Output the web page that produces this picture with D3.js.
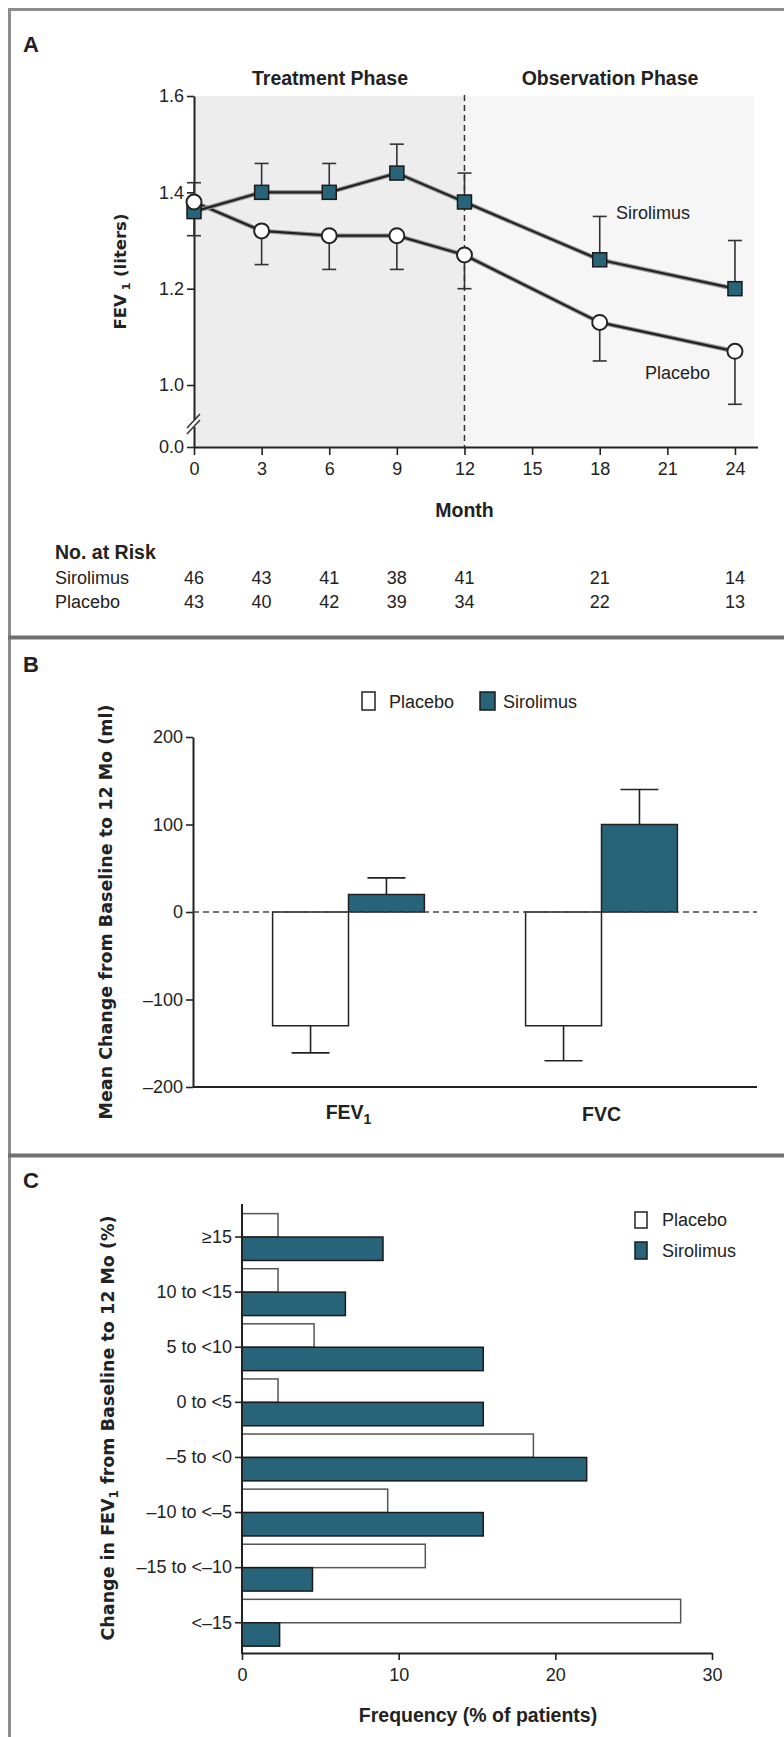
<!DOCTYPE html>
<html>
	<head>
		<meta charset="UTF-8">
		<title>FEV1 sirolimus vs placebo</title>
		<style>
			body{margin:0;background:#fff;}
			text{font-family:"Liberation Sans",Arial,sans-serif;fill:#222;}
			.vlab{font-family:"DejaVu Sans",Verdana,sans-serif;font-weight:bold;}
		</style>
	</head>
	<body>
		<script src="https://cdn.jsdelivr.net/npm/d3@7"></script>
		<script>
			// Panel A: FEV1 over time
			var months = [0,3,6,9,12,18,24];
			var siroMean = [1.36,1.40,1.40,1.44,1.38,1.26,1.20];
			var siroUpper = [1.42,1.46,1.46,1.50,1.44,1.35,1.30];
			var placMean = [1.38,1.32,1.31,1.31,1.27,1.13,1.07];
			var placLower = [1.31,1.25,1.24,1.24,1.20,1.05,0.96];
			var riskSiro = [46,43,41,38,41,21,14];
			var riskPlac = [43,40,42,39,34,22,13];
			var monthTicks = [0,3,6,9,12,15,18,21,24];
			var fevTicks = [0,1.0,1.2,1.4,1.6];

			// Panel B: mean change to 12 months (ml)
			var measures = ["FEV1","FVC"];
			var groups = ["Placebo","Sirolimus"];
			var changePlac = [-130,-130];
			var changePlacErr = [-161,-170];
			var changeSiro = [20,100];
			var changeSiroErr = [39,140];
			var changeTicks = [-200,-100,0,100,200];

			// Panel C: distribution of FEV1 change (%)
			var bins = ["\u226515","10 to <15","5 to <10","0 to <5","\u20135 to <0","\u201310 to <\u20135","\u201315 to <\u201310","<\u201315"];
			var freqPlac = [2.3,2.3,4.6,2.3,18.6,9.3,11.7,28.0];
			var freqSiro = [9.0,6.6,15.4,15.4,22.0,15.4,4.5,2.4];
			var freqTicks = [0,10,20,30];

			var teal = "#276479";
			var width = 784, height = 1737;

			var svg = d3.select("body").append("svg")
						.attr("width",width)
						.attr("height",height);

			// frame lines
			svg.append("line").attr("x1",9.5).attr("x2",9.5).attr("y1",8).attr("y2",height)
				.attr("stroke","#8c8c8c").attr("stroke-width",3);
			svg.append("line").attr("x1",8).attr("x2",width).attr("y1",9.5).attr("y2",9.5)
				.attr("stroke","#8c8c8c").attr("stroke-width",3);
			[637.5,1155.5].forEach(function(y){
				svg.append("line").attr("x1",8).attr("x2",width).attr("y1",y).attr("y2",y)
					.attr("stroke","#707070").attr("stroke-width",4);
			});

			function panelLetter(t,y){
				svg.append("text").attr("x",23).attr("y",y)
					.style("font-size","22px").style("font-weight","bold").text(t);
			}
			function styleAxis(g){
				g.select(".domain").attr("stroke","#222").attr("stroke-width",2);
				g.selectAll(".tick line").attr("stroke","#222").attr("stroke-width",1.6);
				g.selectAll(".tick text").style("font-size","18px")
					.style("font-family","'Liberation Sans',Arial,sans-serif").attr("fill","#222");
			}

			//---------------- Panel A ----------------
			panelLetter("A",52);
			var xA = d3.scaleLinear().domain([0,25]).range([194,757.5]);
			// broken axis: 0.0 sits just under the 0.9 mark
			var yA = d3.scaleLinear().domain([0,0.9,1.6]).range([447,433.2,96]);

			// shaded phases
			svg.append("rect").attr("x",xA(0)).attr("y",yA(1.6))
				.attr("width",xA(12)-xA(0)).attr("height",yA(0)-yA(1.6)).attr("fill","#ededed");
			svg.append("rect").attr("x",xA(12)).attr("y",yA(1.6))
				.attr("width",754-xA(12)).attr("height",yA(0)-yA(1.6)).attr("fill","#f6f6f6");
			svg.append("line").attr("x1",xA(12)).attr("x2",xA(12)).attr("y1",95).attr("y2",yA(0))
				.attr("stroke","#333").attr("stroke-width",1.5).attr("stroke-dasharray","6,4");

			svg.append("text").attr("x",330).attr("y",85).attr("text-anchor","middle")
				.style("font-size","19.5px").style("font-weight","bold").text("Treatment Phase");
			svg.append("text").attr("x",610).attr("y",85).attr("text-anchor","middle")
				.style("font-size","19.5px").style("font-weight","bold").text("Observation Phase");

			var gxA = svg.append("g").attr("transform","translate(0,"+yA(0)+")")
						.call(d3.axisBottom(xA).tickValues(monthTicks).tickSize(8).tickSizeOuter(0).tickPadding(7));
			styleAxis(gxA);
			var gyA = svg.append("g").attr("transform","translate("+xA(0)+",0)")
						.call(d3.axisLeft(yA).tickValues(fevTicks).tickFormat(d3.format(".1f")).tickSize(7).tickSizeOuter(0).tickPadding(3));
			styleAxis(gyA);

			// axis break marks
			svg.append("rect").attr("x",190).attr("y",420).attr("width",8).attr("height",7).attr("fill","#fff");
			svg.append("line").attr("x1",187).attr("y1",428).attr("x2",200).attr("y2",414).attr("stroke","#333").attr("stroke-width",1.5);
			svg.append("line").attr("x1",187).attr("y1",434).attr("x2",200).attr("y2",420).attr("stroke","#333").attr("stroke-width",1.5);

			svg.append("text").attr("x",xA(12)).attr("y",517).attr("text-anchor","middle")
				.style("font-size","19.5px").style("font-weight","bold").text("Month");

			var yLabA = svg.append("text").attr("class","vlab")
						.attr("transform","translate(126,"+((yA(0)+yA(1.6))/2)+") rotate(-90)")
						.attr("text-anchor","middle").style("font-size","16.5px");
			yLabA.append("tspan").text("FEV");
			yLabA.append("tspan").attr("dy",4).style("font-size","11px").text(" 1");
			yLabA.append("tspan").attr("dy",-4).text(" (liters)");

			var siroData = months.map(function(m,i){return {m:m,v:siroMean[i],e:siroUpper[i]};});
			var placData = months.map(function(m,i){return {m:m,v:placMean[i],e:placLower[i]};});

			// error bars
			[siroData,placData].forEach(function(data){
				var eb = svg.append("g").selectAll("g").data(data).enter().append("g");
				eb.append("line")
					.attr("x1",function(d){return xA(d.m);}).attr("x2",function(d){return xA(d.m);})
					.attr("y1",function(d){return yA(d.v);}).attr("y2",function(d){return yA(d.e);})
					.attr("stroke","#333").attr("stroke-width",1.6);
				eb.append("line")
					.attr("x1",function(d){return xA(d.m)-7;}).attr("x2",function(d){return xA(d.m)+7;})
					.attr("y1",function(d){return yA(d.e);}).attr("y2",function(d){return yA(d.e);})
					.attr("stroke","#333").attr("stroke-width",1.6);
			});

			var lineA = d3.line().x(function(d){return xA(d.m);}).y(function(d){return yA(d.v);});
			[placData,siroData].forEach(function(data){
				svg.append("path").datum(data).attr("d",lineA)
					.attr("fill","none").attr("stroke","#999").attr("stroke-width",4.5);
				svg.append("path").datum(data).attr("d",lineA)
					.attr("fill","none").attr("stroke","#222").attr("stroke-width",2.2);
			});

			svg.append("g").selectAll("rect").data(siroData).enter().append("rect")
				.attr("x",function(d){return xA(d.m)-7;}).attr("y",function(d){return yA(d.v)-7;})
				.attr("width",14).attr("height",14)
				.attr("fill",teal).attr("stroke","#1a1a1a").attr("stroke-width",1.5);
			svg.append("g").selectAll("circle").data(placData).enter().append("circle")
				.attr("cx",function(d){return xA(d.m);}).attr("cy",function(d){return yA(d.v);})
				.attr("r",7.5).attr("fill","#fff").attr("stroke","#222").attr("stroke-width",2);

			svg.append("text").attr("x",616).attr("y",219).style("font-size","18px").text("Sirolimus");
			svg.append("text").attr("x",645).attr("y",379).style("font-size","18px").text("Placebo");

			// numbers at risk
			svg.append("text").attr("x",55).attr("y",559).style("font-size","19.5px").style("font-weight","bold").text("No. at Risk");
			[["Sirolimus",riskSiro,584],["Placebo",riskPlac,608]].forEach(function(row){
				svg.append("text").attr("x",55).attr("y",row[2]).style("font-size","18px").text(row[0]);
				svg.append("g").selectAll("text").data(row[1]).enter().append("text")
					.attr("x",function(d,i){return xA(months[i]);}).attr("y",row[2])
					.attr("text-anchor","middle").style("font-size","18px")
					.text(function(d){return d;});
			});

			//---------------- Panel B ----------------
			panelLetter("B",672);
			var yB = d3.scaleLinear().domain([-200,200]).range([1087,737]);
			var x0B = d3.scaleBand().domain(measures).range([222,728]).paddingInner(0.4).paddingOuter(0.2);
			var x1B = d3.scaleBand().domain(groups).range([0,x0B.bandwidth()]);

			var gyB = svg.append("g").attr("transform","translate(193,0)")
						.call(d3.axisLeft(yB).tickValues(changeTicks).tickSize(7).tickSizeOuter(0).tickPadding(3)
							.tickFormat(function(d){return d<0?"\u2013"+Math.abs(d):d;}));
			styleAxis(gyB);
			svg.append("line").attr("x1",193).attr("x2",757).attr("y1",yB(-200)).attr("y2",yB(-200))
				.attr("stroke","#222").attr("stroke-width",2);

			var barsB = [];
			measures.forEach(function(m,i){
				barsB.push({m:m,g:"Placebo",v:changePlac[i],e:changePlacErr[i]});
				barsB.push({m:m,g:"Sirolimus",v:changeSiro[i],e:changeSiroErr[i]});
			});
			var bB = svg.append("g").selectAll("g").data(barsB).enter().append("g");
			bB.append("line")
				.attr("x1",function(d){return x0B(d.m)+x1B(d.g)+x1B.bandwidth()/2;})
				.attr("x2",function(d){return x0B(d.m)+x1B(d.g)+x1B.bandwidth()/2;})
				.attr("y1",function(d){return yB(d.v);}).attr("y2",function(d){return yB(d.e);})
				.attr("stroke","#222").attr("stroke-width",1.6);
			bB.append("line")
				.attr("x1",function(d){return x0B(d.m)+x1B(d.g)+x1B.bandwidth()/2-19;})
				.attr("x2",function(d){return x0B(d.m)+x1B(d.g)+x1B.bandwidth()/2+19;})
				.attr("y1",function(d){return yB(d.e);}).attr("y2",function(d){return yB(d.e);})
				.attr("stroke","#222").attr("stroke-width",1.6);
			bB.append("rect")
				.attr("x",function(d){return x0B(d.m)+x1B(d.g);})
				.attr("y",function(d){return Math.min(yB(d.v),yB(0));})
				.attr("width",x1B.bandwidth())
				.attr("height",function(d){return Math.abs(yB(d.v)-yB(0));})
				.attr("fill",function(d){return d.g=="Placebo"?"#fff":teal;})
				.attr("stroke","#222").attr("stroke-width",1.5);

			svg.append("line").attr("x1",193).attr("x2",757).attr("y1",yB(0)).attr("y2",yB(0))
				.attr("stroke","#444").attr("stroke-width",1.6).attr("stroke-dasharray","6,4");

			// category labels
			var fevLab = svg.append("text").attr("x",x0B("FEV1")+x0B.bandwidth()/2).attr("y",1119)
							.attr("text-anchor","middle").style("font-size","19.5px").style("font-weight","bold");
			fevLab.append("tspan").text("FEV");
			fevLab.append("tspan").attr("dy",5).style("font-size","14px").text("1");
			svg.append("text").attr("x",x0B("FVC")+x0B.bandwidth()/2).attr("y",1121)
				.attr("text-anchor","middle").style("font-size","19.5px").style("font-weight","bold").text("FVC");

			// legend B
			svg.append("rect").attr("x",362).attr("y",692).attr("width",13).attr("height",18)
				.attr("fill","#fff").attr("stroke","#222").attr("stroke-width",1.5);
			svg.append("text").attr("x",389).attr("y",708).style("font-size","18px").text("Placebo");
			svg.append("rect").attr("x",480).attr("y",692).attr("width",15).attr("height",18)
				.attr("fill",teal).attr("stroke","#1a1a1a").attr("stroke-width",1.5);
			svg.append("text").attr("x",503).attr("y",708).style("font-size","18px").text("Sirolimus");

			svg.append("text").attr("class","vlab")
				.attr("transform","translate(112,"+yB(0)+") rotate(-90)")
				.attr("text-anchor","middle").style("font-size","17.5px")
				.text("Mean Change from Baseline to 12 Mo (ml)");

			//---------------- Panel C ----------------
			panelLetter("C",1188);
			var xC = d3.scaleLinear().domain([0,30]).range([242,712]);
			var yC = d3.scaleBand().domain(bins).range([1209.5,1650.3]).paddingInner(0.15).paddingOuter(0.075);
			var y1C = d3.scaleBand().domain(groups).range([0,yC.bandwidth()]);

			var barsC = [];
			bins.forEach(function(b,i){
				barsC.push({b:b,g:"Placebo",v:freqPlac[i]});
				barsC.push({b:b,g:"Sirolimus",v:freqSiro[i]});
			});
			svg.append("g").selectAll("rect").data(barsC).enter().append("rect")
				.attr("x",xC(0))
				.attr("y",function(d){return yC(d.b)+y1C(d.g);})
				.attr("width",function(d){return xC(d.v)-xC(0);})
				.attr("height",y1C.bandwidth())
				.attr("fill",function(d){return d.g=="Placebo"?"#fff":teal;})
				.attr("stroke",function(d){return d.g=="Placebo"?"#555":"#1a1a1a";})
				.attr("stroke-width",1.5);

			var gxC = svg.append("g").attr("transform","translate(0,1653)")
						.call(d3.axisBottom(xC).tickValues(freqTicks).tickSize(7).tickSizeOuter(0).tickPadding(8));
			styleAxis(gxC);
			var gyC = svg.append("g").attr("transform","translate(242,0)")
						.call(d3.axisLeft(yC).tickSize(7).tickSizeOuter(0).tickPadding(3));
			styleAxis(gyC);
			gyC.select(".domain").remove();
			svg.append("line").attr("x1",242).attr("x2",242).attr("y1",1204).attr("y2",1654)
				.attr("stroke","#222").attr("stroke-width",2);

			svg.append("text").attr("x",478).attr("y",1722).attr("text-anchor","middle")
				.style("font-size","19.5px").style("font-weight","bold").text("Frequency (% of patients)");

			var yLabC = svg.append("text").attr("class","vlab")
						.attr("transform","translate(114,1428) rotate(-90)")
						.attr("text-anchor","middle").style("font-size","17.5px");
			yLabC.append("tspan").text("Change in FEV");
			yLabC.append("tspan").attr("dy",4).style("font-size","12px").text("1");
			yLabC.append("tspan").attr("dy",-4).text(" from Baseline to 12 Mo (%)");

			// legend C
			svg.append("rect").attr("x",635).attr("y",1212).attr("width",12).attr("height",16)
				.attr("fill","#fff").attr("stroke","#222").attr("stroke-width",1.5);
			svg.append("text").attr("x",662).attr("y",1226).style("font-size","18px").text("Placebo");
			svg.append("rect").attr("x",635).attr("y",1242).attr("width",12).attr("height",17)
				.attr("fill",teal).attr("stroke","#1a1a1a").attr("stroke-width",1.5);
			svg.append("text").attr("x",662).attr("y",1257).style("font-size","18px").text("Sirolimus");
		</script>
	</body>
</html>
